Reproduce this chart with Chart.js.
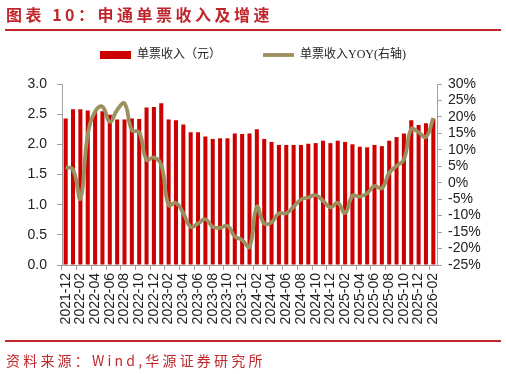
<!DOCTYPE html>
<html><head><meta charset="utf-8">
<script src="https://cdn.jsdelivr.net/npm/chart.js@4.4.0/dist/chart.umd.min.js"></script>
<style>
html,body{margin:0;padding:0;background:#fff;width:506px;height:374px;overflow:hidden;}
#wrap{position:relative;width:506px;height:374px;}
canvas{position:absolute;left:0;top:0;}
#title{position:absolute;left:6px;top:4px;font-family:"Noto Sans CJK SC";font-size:16px;font-weight:bold;color:#C0272D;letter-spacing:3.5px;white-space:nowrap;line-height:20px;}
#tline{position:absolute;left:5px;top:29px;width:496px;height:2px;background:#C0272D;}
#bline{position:absolute;left:5px;top:340px;width:496px;height:2px;background:#C0272D;}
#src{position:absolute;left:6px;top:350px;font-family:"Noto Sans CJK SC";font-size:14px;color:#C0272D;letter-spacing:3.2px;line-height:20px;white-space:nowrap;}
</style></head>
<body><div id="wrap">
<canvas id="c" width="506" height="374"></canvas>
<div id="title">图表 10：申通单票收入及增速</div>
<div id="tline"></div>
<div id="bline"></div>
<div id="src">资料来源：Wind,华源证券研究所</div>
</div>
<script>
const categories = ['2021-12','2022-01','2022-02','2022-03','2022-04','2022-05','2022-06','2022-07','2022-08','2022-09','2022-10','2022-11','2022-12',
'2023-01','2023-02','2023-03','2023-04','2023-05','2023-06','2023-07','2023-08','2023-09','2023-10','2023-11','2023-12',
'2024-01','2024-02','2024-03','2024-04','2024-05','2024-06','2024-07','2024-08','2024-09','2024-10','2024-11','2024-12',
'2025-01','2025-02','2025-03','2025-04','2025-05','2025-06','2025-07','2025-08','2025-09','2025-10','2025-11','2025-12',
'2026-01','2026-02'];
const revenue = [2.43,2.58,2.58,2.56,2.55,2.55,2.49,2.41,2.41,2.43,2.42,2.61,2.62,
2.68,2.41,2.40,2.33,2.20,2.20,2.13,2.09,2.10,2.10,2.18,2.17,
2.18,2.25,2.09,2.04,1.99,1.99,1.99,1.99,2.01,2.02,2.06,2.02,
2.06,2.04,2.00,1.96,1.95,1.99,1.97,2.06,2.12,2.18,2.40,2.32,
2.35,2.42];
const yoy = [4.7,4.0,-4.8,14.5,21.6,23.1,18.5,22.1,24.1,16.0,15.3,7.0,7.7,
5.4,-6.8,-6.1,-9.3,-13.4,-12.4,-11.1,-13.4,-13.7,-13.1,-16.3,-17.4,
-19.5,-7.3,-12.4,-12.0,-9.3,-9.3,-7.3,-5.1,-4.5,-3.8,-5.5,-7.5,
-6.1,-9.2,-4.0,-4.2,-3.2,-1.0,-1.7,3.0,5.1,7.1,16.3,15.3,
13.9,19.7];
const seriesNames = ['单票收入（元）','单票收入YOY(右轴)'];

const axisGrey = '#A0A0A0';
const tickFont = {family:"'Liberation Sans', Arial, sans-serif", size:14};

const legendSpacer = {
  id:'legendSpacer',
  beforeLayout(chart){
    const lg = chart.legend;
    if (lg && !lg._wrapped){
      const f = lg.fit;
      lg.fit = function(){ f.call(this); this.height = 84 - 7; };
      lg._wrapped = true;
    }
  }
};

new Chart(document.getElementById('c'), {
  data: {
    labels: categories,
    datasets: [
      {type:'line', label: seriesNames[1], data: yoy, yAxisID:'y1', borderColor:'#9A9060', backgroundColor:'#9A9060',
       borderWidth:3.8, tension:0.45, pointRadius:0, pointStyle:'line', order:0},
      {type:'bar', label: seriesNames[0], data: revenue, yAxisID:'y', backgroundColor:'#CC0000', borderWidth:0,
       barPercentage:0.55, categoryPercentage:1, pointStyle:'rect', order:1}
    ]
  },
  options: {
    responsive:false, animation:false,
    layout:{padding:{top:7, left:0, right:0, bottom:0}},
    plugins:{
      tooltip:{enabled:false},
      legend:{position:'top', reverse:true,
        labels:{usePointStyle:true, pointStyleWidth:31, boxHeight:8, padding:42, color:'#222',
          font:{family:"'Liberation Serif', 'Noto Sans CJK SC', serif", size:12}}}
    },
    scales:{
      x:{type:'category', offset:true,
        grid:{offset:true, drawOnChartArea:false, tickLength:5, color:(ctx)=> (ctx.index!==undefined && ctx.index%2===0) ? axisGrey : 'rgba(0,0,0,0)'},
        border:{color:axisGrey, width:1},
        ticks:{autoSkip:false, maxRotation:90, minRotation:90, padding:3, color:'#222',
          font:{family:"'Liberation Sans', Arial, sans-serif", size:14},
          callback:(v,i)=> i%2===0 ? categories[i] : ''},
        afterFit:(s)=>{ s.height = 374-265; }
      },
      y:{position:'left', min:0, max:3,
        ticks:{stepSize:0.5, autoSkip:false, padding:10, color:'#222', font:tickFont, callback:(v)=>Number(v).toFixed(1)},
        grid:{drawOnChartArea:false, tickLength:5, color:axisGrey},
        border:{color:axisGrey, width:1},
        afterFit:(s)=>{ s.width = 62; }
      },
      y1:{position:'right', min:-25, max:30,
        ticks:{stepSize:5, autoSkip:false, padding:6, color:'#222', font:tickFont, callback:(v)=>v+'%'},
        grid:{drawOnChartArea:false, tickLength:5, color:axisGrey},
        border:{color:axisGrey, width:1},
        afterFit:(s)=>{ s.width = 506-437; }
      }
    }
  },
  plugins:[legendSpacer]
});
</script>
</body></html>
